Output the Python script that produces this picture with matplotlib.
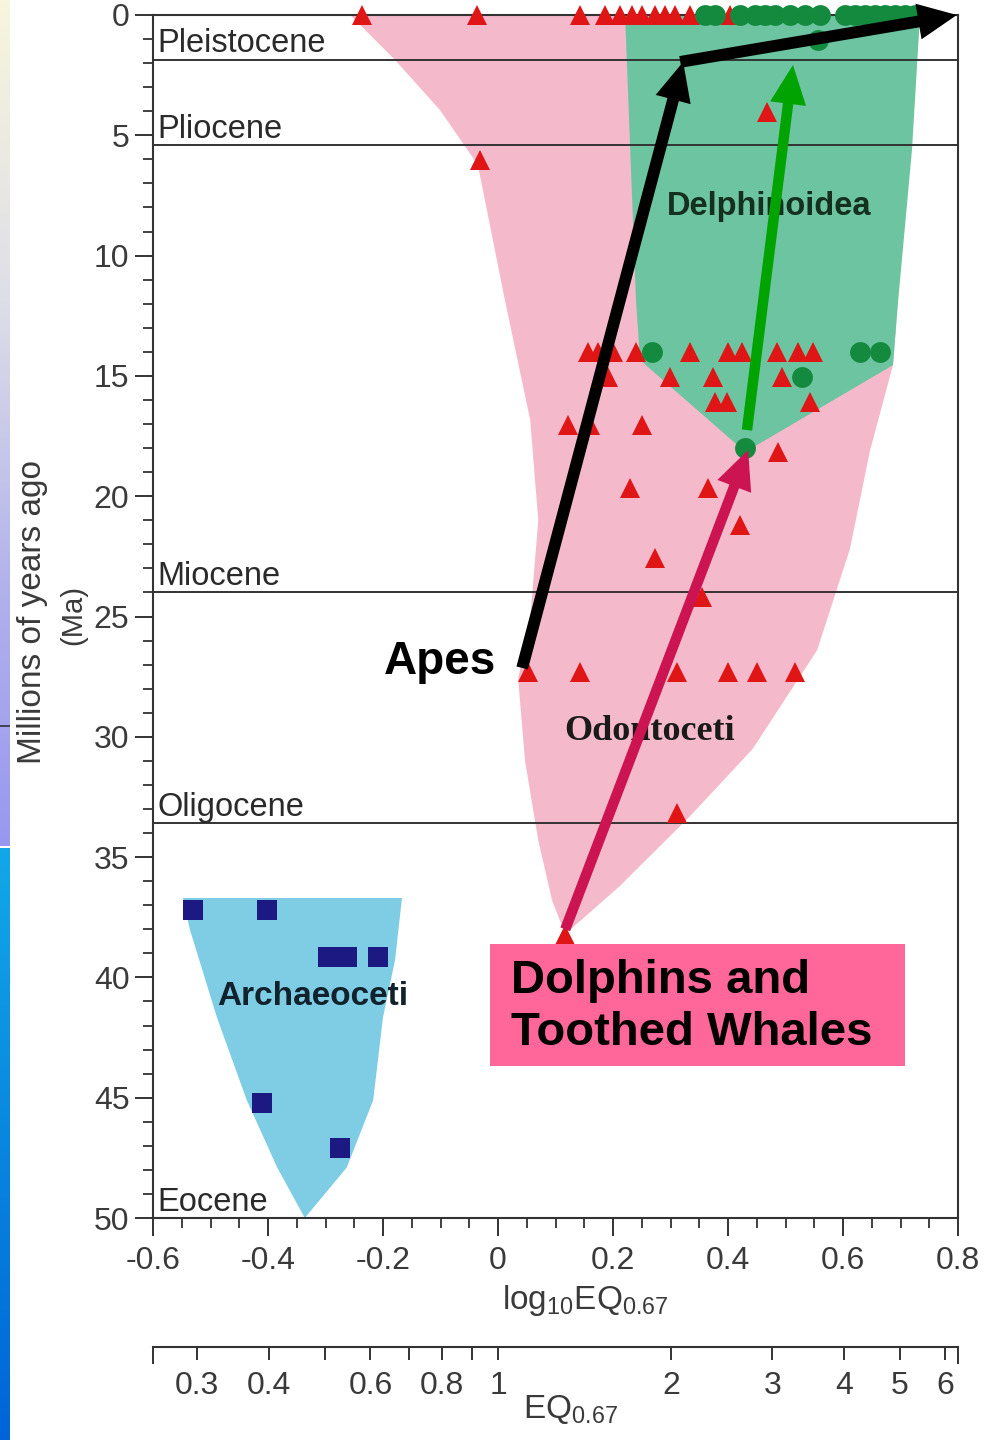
import numpy as np
import matplotlib
matplotlib.use("Agg")
import matplotlib.pyplot as plt
from matplotlib.patches import Polygon, Rectangle, FancyArrowPatch, ArrowStyle

plt.rcParams['font.family'] = ['Liberation Sans', 'DejaVu Sans']
plt.rcParams['mathtext.fontset'] = 'custom'
plt.rcParams['mathtext.rm'] = 'Liberation Sans'
plt.rcParams['mathtext.it'] = 'Liberation Sans:italic'

# ---------------- data: log10 EQ (x) vs age in Ma (y) ----------------
odontoceti_x = [-0.237, -0.037, 0.143, 0.186, 0.212, 0.233, 0.250, 0.273, 0.290, 0.308, 0.334, 0.403,
                0.468, -0.031,
                0.157, 0.174, 0.200, 0.240, 0.334, 0.400, 0.424, 0.485, 0.522, 0.548,
                0.191, 0.299, 0.374, 0.494,
                0.377, 0.398, 0.543,
                0.122, 0.160, 0.250,
                0.487, 0.230, 0.365, 0.421, 0.273, 0.355,
                0.052, 0.143, 0.311, 0.400, 0.450, 0.517,
                0.311, 0.117]
odontoceti_ma = [0, 0, 0, 0, 0, 0, 0, 0, 0, 0, 0, 0,
                 4.03, 6.03,
                 14.0, 14.0, 14.0, 14.0, 14.0, 14.0, 14.0, 14.0, 14.0, 14.0,
                 15.05, 15.05, 15.05, 15.05,
                 16.1, 16.1, 16.1,
                 17.04, 17.04, 17.04,
                 18.16, 19.66, 19.66, 21.2, 22.57, 24.2,
                 27.3, 27.3, 27.3, 27.3, 27.3, 27.3,
                 33.17, 38.24]

delphinoidea_x = [0.360, 0.377, 0.421, 0.447, 0.464, 0.482, 0.508, 0.534, 0.560, 0.603, 0.621,
                  0.638, 0.656, 0.673, 0.690, 0.708, 0.725,
                  0.557, 0.268, 0.630, 0.664, 0.529, 0.430]
delphinoidea_ma = [0] * 17 + [1.04, 14.0, 14.0, 14.0, 15.05, 18.0]

archaeoceti_x = [-0.530, -0.402, -0.296, -0.262, -0.209, -0.410, -0.275]
archaeoceti_ma = [37.2, 37.2, 39.15, 39.15, 39.15, 45.2, 47.1]

# group ranges (outlines)
odontoceti_outline = [(-0.257, 0), (-0.179, 1.87), (-0.101, 3.95), (-0.035, 6.23), (0.012, 11.85),
                      (0.056, 16.83), (0.070, 21.0), (0.056, 25.1), (0.035, 27.6), (0.047, 31.0),
                      (0.070, 34.3), (0.094, 36.8), (0.117, 38.2), (0.212, 36.2), (0.334, 33.3),
                      (0.443, 30.5), (0.555, 26.4), (0.612, 22.2), (0.647, 18.1), (0.687, 14.55),
                      (0.708, 7.7), (0.725, 0)]
delphinoidea_outline = [(0.221, 0), (0.230, 5.6), (0.240, 11.85), (0.247, 14.34), (0.430, 18.16),
                        (0.687, 14.55), (0.696, 11.85), (0.720, 5.6), (0.734, 0)]
archaeoceti_outline = [(-0.548, 36.7), (-0.167, 36.7), (-0.179, 39.28), (-0.200, 41.65),
                       (-0.217, 45.1), (-0.263, 47.9), (-0.336, 50.0), (-0.384, 47.9),
                       (-0.437, 45.1), (-0.489, 41.65), (-0.536, 38.0)]

# epoch boundaries (Ma) and names
epoch_names = ['Pleistocene', 'Pliocene', 'Miocene', 'Oligocene', 'Eocene']
epoch_bottoms = [1.85, 5.4, 24.0, 33.6, 50.0]

x_ticks = [-0.6, -0.4, -0.2, 0, 0.2, 0.4, 0.6, 0.8]
x_tick_labels = ['-0.6', '-0.4', '-0.2', '0', '0.2', '0.4', '0.6', '0.8']
y_ticks = [0, 5, 10, 15, 20, 25, 30, 35, 40, 45, 50]
eq_ticks = [0.3, 0.4, 0.5, 0.6, 0.7, 0.8, 0.9, 1, 2, 3, 4, 5, 6]
eq_tick_labels = ['0.3', '0.4', '', '0.6', '', '0.8', '', '1', '2', '3', '4', '5', '6']

# annotation arrows: (tail, tip)
apes_arrow_1 = ((0.042, 27.14), (0.322, 1.95))
apes_arrow_2 = ((0.317, 1.95), (0.798, 0.0))
dolphin_arrow = ((0.117, 38.0), (0.435, 18.08))
delphinoid_arrow = ((0.433, 17.25), (0.513, 2.08))

# ---------------- figure ----------------
W, H = 986, 1440
fig = plt.figure(figsize=(W / 100, H / 100), dpi=100)
fig.patch.set_facecolor('white')

# slide background strip on the left edge
strip = fig.add_axes([0, 0, 10 / W, 1])
rows = np.arange(H)
top_anchor_px = [0, 300, 600, 845]
top_anchor_rgb = np.array([[248, 246, 220], [222, 222, 232], [176, 176, 236], [152, 152, 240]]) / 255
bot_anchor_px = [848, 1440]
bot_anchor_rgb = np.array([[18, 168, 232], [0, 100, 215]]) / 255
img = np.ones((H, 1, 3))
for c in range(3):
    top = np.interp(rows, top_anchor_px, top_anchor_rgb[:, c])
    bot = np.interp(rows, bot_anchor_px, bot_anchor_rgb[:, c])
    img[:, 0, c] = np.where(rows < 846, top, np.where(rows < 848, 1.0, bot))
strip.imshow(img, aspect='auto', extent=[0, 1, H, 0])
strip.plot([0, 1], [726, 726], color='#333333', lw=1.2)
strip.set_xlim(0, 1)
strip.set_ylim(H, 0)
strip.axis('off')

ax = fig.add_axes([153 / W, 1 - 1218 / H, 805 / W, 1203 / H])
ax.set_xlim(-0.6, 0.8)
ax.set_ylim(50, 0)

ax.add_patch(Polygon(odontoceti_outline, closed=True, facecolor='#f5b9cc', edgecolor='none', zorder=1))
ax.add_patch(Polygon(delphinoidea_outline, closed=True, facecolor='#6cc4a0', edgecolor='none', zorder=1.1))
ax.add_patch(Polygon(archaeoceti_outline, closed=True, facecolor='#7ecde5', edgecolor='none', zorder=1))

for name, b in zip(epoch_names, epoch_bottoms):
    if b < 50:
        ax.axhline(b, color='#333333', lw=1.4, zorder=2)
    ax.text(-0.592, b - 0.3, name, fontsize=23.5, color='#2a2a2a', ha='left', va='baseline', zorder=4)

ax.plot(odontoceti_x, odontoceti_ma, linestyle='none', marker='^', markersize=15,
        color='#e01515', markeredgewidth=0, zorder=3, clip_on=False)
ax.plot(delphinoidea_x, delphinoidea_ma, linestyle='none', marker='o', markersize=15,
        color='#138a3e', markeredgewidth=0, zorder=3, clip_on=False)
ax.plot(archaeoceti_x, archaeoceti_ma, linestyle='none', marker='s', markersize=15,
        color='#1c1a82', markeredgewidth=0, zorder=3, clip_on=False)

ax.text(0.472, 7.94, 'Delphinoidea', fontsize=23.5, fontweight='bold', color='#15301f',
        ha='center', va='center', zorder=4)
ax.text(0.264, 29.8, 'Odontoceti', family=['Liberation Serif', 'DejaVu Serif'], fontsize=26,
        fontweight='bold', color='#1a1a1a', ha='center', va='center', zorder=4)
ax.text(-0.322, 40.8, 'Archaeoceti', fontsize=24, fontweight='bold', color='#11222c',
        ha='center', va='center', zorder=4)

# axes styling
for s in ax.spines.values():
    s.set_color('#333333')
    s.set_linewidth(1.5)
ax.set_xticks(x_ticks)
ax.set_xticklabels(x_tick_labels)
ax.set_xticks(np.arange(-0.6, 0.801, 0.05), minor=True)
ax.set_yticks(y_ticks)
ax.set_yticks(np.arange(0, 51, 1), minor=True)
ax.tick_params(which='major', length=13, width=1.4, direction='out', color='#333333',
               labelsize=23, labelcolor='#3a3a3a')
ax.tick_params(axis='x', which='major', pad=7)
ax.tick_params(axis='y', which='major', pad=4)
ax.tick_params(which='minor', length=7, width=1.3, direction='out', color='#333333')

# EQ scale below the main axis
ax2 = fig.add_axes([153 / W, 1 - 1347 / H, 805 / W, 0.0001])
ax2.set_xlim(-0.6, 0.8)
ax2.set_yticks([])
for side in ['top', 'left', 'right']:
    ax2.spines[side].set_visible(False)
ax2.spines['bottom'].set_color('#333333')
ax2.spines['bottom'].set_linewidth(1.5)
ax2.set_xticks(np.log10(eq_ticks))
ax2.set_xticklabels(eq_tick_labels)
ax2.set_xticks([-0.6, 0.8], minor=True)
ax2.tick_params(which='major', length=9, width=1.4, direction='out', color='#333333',
                labelsize=23, labelcolor='#3a3a3a', pad=8)
ax2.tick_params(which='minor', length=12, width=1.4, direction='out', color='#333333')
ax2.patch.set_visible(False)

fig.text(585 / W, 1 - 1300 / H, 'log$_{10}$EQ$_{0.67}$', fontsize=24, color='#3a3a3a',
         ha='center', va='center')
fig.text(570 / W, 1 - 1410 / H, 'EQ$_{0.67}$', fontsize=24, color='#3a3a3a',
         ha='center', va='center')
fig.text(33 / W, 1 - 612 / H, 'Millions of years ago', fontsize=24, color='#3a3a3a',
         rotation=90, ha='center', va='center')
fig.text(73 / W, 1 - 615 / H, '(Ma)', fontsize=21, color='#3a3a3a',
         rotation=90, ha='center', va='center')

# callouts
ax.add_patch(Rectangle((-0.223, 25.35), 0.258, 2.83, facecolor='white', edgecolor='none', zorder=5))
ax.text(-0.0035, 26.9, 'Apes', fontsize=33, fontweight='bold', color='black',
        ha='right', va='center', zorder=7)


def arrow(seg, color, tail):
    (x0, y0), (x1, y1) = seg
    style = ArrowStyle.Simple(head_length=2.8, head_width=2.6, tail_width=tail)
    ax.add_patch(FancyArrowPatch((x0, y0), (x1, y1), arrowstyle=style, mutation_scale=10,
                                 shrinkA=0, shrinkB=0, color=color, lw=0, zorder=6,
                                 clip_on=False))


arrow(apes_arrow_2, 'black', 0.85)
arrow(apes_arrow_1, 'black', 0.85)
arrow(delphinoid_arrow, '#00a300', 0.75)
arrow(dolphin_arrow, '#cc1452', 0.75)

ax.add_patch(Rectangle((-0.014, 38.6), 0.722, 5.08, facecolor='#ff6699', edgecolor='none',
                       zorder=8, clip_on=False))
ax.text(0.0226, 40.65, 'Dolphins and', fontsize=34, fontweight='bold', color='black',
        ha='left', va='baseline', zorder=9)
ax.text(0.0226, 42.8, 'Toothed Whales', fontsize=34, fontweight='bold', color='black',
        ha='left', va='baseline', zorder=9)

fig.savefig('out.png', dpi=100)
